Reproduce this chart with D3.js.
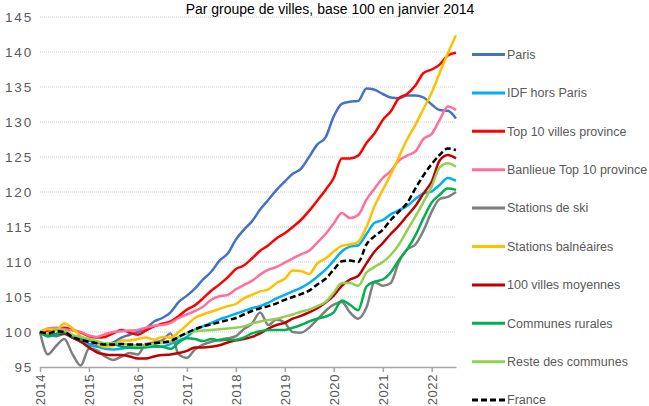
<!DOCTYPE html>
<html>
<head>
<meta charset="utf-8">
<script src="https://cdn.jsdelivr.net/npm/d3@7"></script>
<style>
  body { margin: 0; background: #fff; }
  svg { font-family: "Liberation Sans", Arial, sans-serif; }
</style>
</head>
<body>
<div id="chart"></div>
<script>
// periods, one every two months
const dates = [
  "2014-01","2014-03","2014-05","2014-07","2014-09","2014-11",
  "2015-01","2015-03","2015-05","2015-07","2015-09","2015-11",
  "2016-01","2016-03","2016-05","2016-07","2016-09","2016-11",
  "2017-01","2017-03","2017-05","2017-07","2017-09","2017-11",
  "2018-01","2018-03","2018-05","2018-07","2018-09","2018-11",
  "2019-01","2019-03","2019-05","2019-07","2019-09","2019-11",
  "2020-01","2020-03","2020-05","2020-07","2020-09","2020-11",
  "2021-01","2021-03","2021-05","2021-07","2021-09","2021-11",
  "2022-01","2022-03","2022-05","2022-07"
];

const seriesNames = ["Paris", "IDF hors Paris", "Top 10 villes province", "Banlieue Top 10 province",
  "Stations de ski", "Stations balnéaires", "100 villes moyennes", "Communes rurales",
  "Reste des communes", "France"];

const paris = [100,99.6,99.4,99.7,99.2,98.8,98.3,98.0,98.1,98.5,99.2,99.6,
  100.0,100.5,101.5,102.0,102.8,104.3,105.2,106.2,107.5,108.6,110.2,111.2,
  113.2,114.6,115.8,117.5,118.9,120.3,121.5,122.6,123.3,125.0,126.8,127.8,
  130.8,132.6,132.9,133.0,134.8,134.6,134.0,133.5,133.4,133.8,133.8,133.5,
  132.5,131.7,131.6,130.5];
const idf = [100,99.4,99.6,99.8,99.2,98.6,98.1,97.9,97.6,97.5,97.6,97.8,
  97.8,97.8,97.9,97.9,98.3,98.8,99.3,100.3,100.8,101.3,101.8,102.2,
  102.6,103.0,103.4,103.7,104.2,104.8,105.3,105.8,106.3,107.0,107.9,108.9,
  110.2,111.5,112.2,112.4,114.0,115.6,116.0,116.8,117.4,118.0,119.0,119.8,
  120.1,121.0,122.0,121.6];
const top10 = [100,100.2,100.4,100.6,100.3,99.9,99.4,99.2,99.3,99.8,100.3,99.9,
  99.6,100.2,100.8,101.2,101.5,102.3,103.2,103.8,104.8,105.9,106.8,107.8,
  109.0,109.5,110.5,111.6,112.4,113.4,114.1,115.0,116.0,117.3,118.8,120.3,
  122.0,124.8,124.8,125.2,127.0,128.4,130.3,131.5,133.4,134.0,135.2,137.0,
  137.5,138.2,139.5,139.9];
const banlieue = [100,100.5,100.6,100.4,100.2,100.0,99.5,99.3,99.7,100.0,100.1,100.2,
  100.3,100.6,100.9,101.0,101.3,102.0,102.5,103.0,103.6,104.6,105.1,105.3,
  106.1,106.7,107.3,108.2,108.9,109.3,109.9,110.5,111.1,111.6,112.8,114.0,
  115.5,117.0,116.3,116.7,118.9,120.5,122.0,123.0,124.5,125.2,125.8,127.6,
  128.3,130.3,132.2,131.7];
const ski = [100,96.8,98.0,99.0,96.8,95.2,97.6,97.4,96.5,96.0,96.5,97.0,
  96.8,98.3,98.5,98.8,99.8,96.8,96.3,97.5,98.2,98.6,98.9,99.1,
  99.4,100.4,101.2,102.8,101.0,101.8,101.3,100.0,99.9,100.6,101.8,103.0,
  103.9,104.3,102.8,101.9,103.5,107.1,106.6,107.0,110.0,111.8,112.5,114.5,
  117.2,119.0,119.3,120.0];
const balneaires = [100,100.4,100.3,101.2,100.5,99.4,98.8,98.3,97.9,98.0,98.8,98.8,
  99.0,99.2,98.9,99.3,99.2,100.0,101.0,102.0,102.5,102.9,103.3,103.7,
  104.0,104.8,105.3,105.8,106.1,107.0,107.6,108.8,108.7,108.3,109.8,110.5,
  111.5,112.3,112.5,112.9,115.0,118.0,120.3,122.5,125.0,127.5,129.6,131.9,
  134.2,137.0,139.8,142.4];
const villesMoyennes = [100,99.5,99.7,99.8,99.2,98.6,97.8,97.1,96.8,96.7,96.7,96.5,
  96.2,96.2,96.5,96.7,96.8,97.0,97.3,97.8,97.8,97.9,98.1,98.5,
  98.8,99.0,99.3,99.8,100.5,101.0,101.3,101.9,102.3,102.8,103.4,104.2,
  105.2,106.6,107.5,108.0,109.8,111.5,112.7,114.0,115.2,116.6,118.0,119.8,
  121.5,124.5,125.3,124.8];
const rurales = [100,99.4,99.7,100.0,99.4,99.0,98.8,98.5,98.3,98.3,97.9,97.8,
  97.7,97.9,98.0,97.9,97.6,98.5,99.1,99.0,98.7,99.0,98.8,98.9,
  98.9,99.2,99.8,100.1,100.3,100.3,100.3,100.6,101.0,101.5,101.9,102.2,
  102.8,104.5,103.9,103.1,106.5,107.2,107.5,108.5,110.3,111.8,113.8,116.3,
  118.5,119.6,120.5,120.3];
const reste = [100,99.8,100.3,100.2,99.6,99.3,99.0,98.7,98.4,98.4,98.3,98.2,
  98.1,98.1,98.3,98.5,98.6,99.3,99.8,100.1,100.2,100.3,100.4,100.5,
  100.6,100.8,101.2,101.5,101.7,101.9,102.2,102.5,102.9,103.2,103.7,104.3,
  105.6,107.0,107.0,106.6,108.5,109.3,110.0,111.0,112.5,114.5,116.5,118.6,
  120.8,123.5,124.1,123.6];
const france = [100,99.8,100.1,100.0,99.3,98.9,98.6,98.4,98.2,98.2,98.3,98.2,
  98.2,98.2,98.4,98.5,98.7,99.3,99.9,100.4,100.8,101.1,101.4,101.7,
  102.0,102.5,103.0,103.4,103.7,104.1,104.6,105.0,105.4,105.9,106.8,107.6,
  108.9,110.1,110.2,110.0,112.5,113.7,114.6,116.0,117.2,118.4,120.5,122.4,
  124.0,125.3,126.2,126.0];

const yTicks = [95, 100, 105, 110, 115, 120, 125, 130, 135, 140, 145];

const colors = ["#4472C4", "#00B0F0", "#FF0000", "#FF6F9A", "#7F7F7F",
  "#FFC000", "#C00000", "#00B050", "#92D050", "#000000"];
const values = [paris, idf, top10, banlieue, ski, balneaires, villesMoyennes, rurales, reste, france];

const w = 649, h = 406;
const svg = d3.select("#chart").append("svg").attr("width", w).attr("height", h);

const parse = d3.timeParse("%Y-%m");
const dt = dates.map(parse);

const x = d3.scaleTime().domain([parse("2014-01"), parse("2022-07")]).range([40, 456]);
const y = d3.scaleLinear().domain([95, 145]).range([367, 17]);

// title
svg.append("text")
  .attr("x", 330).attr("y", 14)
  .attr("text-anchor", "middle")
  .attr("font-size", "14px")
  .attr("fill", "#000")
  .text("Par groupe de villes, base 100 en janvier 2014");

// gridlines
svg.append("g")
  .selectAll("line")
  .data(yTicks.filter(d => d > 95))
  .enter().append("line")
  .attr("x1", 40).attr("x2", 456)
  .attr("y1", d => y(d)).attr("y2", d => y(d))
  .attr("stroke", "#D0D0D0")
  .attr("stroke-width", 1)
  .attr("stroke-dasharray", "1,1");

// y axis labels
const yAxis = svg.append("g")
  .attr("transform", "translate(33,0)")
  .call(d3.axisLeft(y).tickValues(yTicks).tickSize(0).tickPadding(0));
yAxis.select(".domain").remove();
yAxis.selectAll("text")
  .attr("font-size", "13.5px")
  .attr("font-family", "Liberation Sans, Arial, sans-serif")
  .attr("letter-spacing", "1.8px")
  .attr("fill", "#595959");

// x axis
const xAxis = svg.append("g")
  .attr("transform", "translate(0," + y(95) + ")")
  .call(d3.axisBottom(x).ticks(d3.timeYear.every(1)).tickFormat(d3.timeFormat("%Y")).tickSize(5).tickSizeOuter(0));
xAxis.select(".domain").attr("stroke", "#A6A6A6").attr("stroke-width", 1.5);
xAxis.selectAll(".tick line").attr("stroke", "#A6A6A6").attr("stroke-width", 1.5);
xAxis.selectAll("text")
  .attr("transform", "rotate(-90)")
  .attr("text-anchor", "end")
  .attr("x", -7).attr("y", 0).attr("dy", "0.35em")
  .attr("font-size", "13px")
  .attr("font-family", "Liberation Sans, Arial, sans-serif")
  .attr("letter-spacing", "0.6px")
  .attr("fill", "#595959");

// lines
const line = d3.line()
  .x((d, i) => x(dt[i]))
  .y(d => y(d))
  .curve(d3.curveMonotoneX);

svg.append("g")
  .selectAll("path")
  .data(values)
  .enter().append("path")
  .attr("d", d => line(d))
  .attr("fill", "none")
  .attr("stroke", (d, i) => colors[i])
  .attr("stroke-width", 2.5)
  .attr("stroke-linejoin", "round")
  .attr("stroke-dasharray", (d, i) => seriesNames[i] === "France" ? "6,3" : null);

// legend
const legend = svg.append("g")
  .selectAll("g")
  .data(seriesNames)
  .enter().append("g")
  .attr("transform", (d, i) => "translate(472," + (54.5 + i * 38.4) + ")");

legend.append("line")
  .attr("x1", 0).attr("x2", 33)
  .attr("stroke", (d, i) => colors[i])
  .attr("stroke-width", 3)
  .attr("stroke-dasharray", d => d === "France" ? "6,3" : null);

legend.append("text")
  .attr("x", 35).attr("dy", "0.35em")
  .attr("font-size", "12.5px")
  .attr("fill", "#595959")
  .text(d => d);
</script>
</body>
</html>
